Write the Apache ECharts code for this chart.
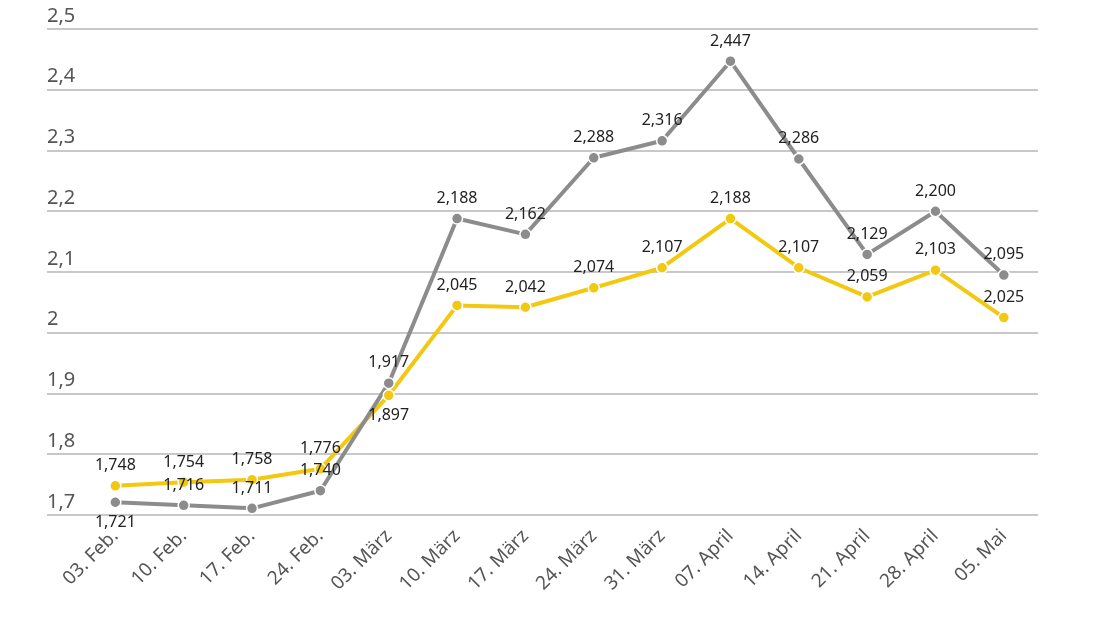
<!DOCTYPE html>
<html>
<head>
<meta charset="utf-8">
<script src="https://cdn.jsdelivr.net/npm/echarts@6/dist/echarts.min.js"></script>
<style>html,body{margin:0;padding:0;background:#fff}#c{width:1100px;height:618px}</style>
</head>
<body>
<div id="c"></div>
<script>
const categories = ['03. Feb.','10. Feb.','17. Feb.','24. Feb.','03. März','10. März','17. März','24. März','31. März','07. April','14. April','21. April','28. April','05. Mai'];
const grayValues = [1.721,1.716,1.711,1.740,1.917,2.188,2.162,2.288,2.316,2.447,2.286,2.129,2.200,2.095];
const yellowValues = [1.748,1.754,1.758,1.776,1.897,2.045,2.042,2.074,2.107,2.188,2.107,2.059,2.103,2.025];
const grayBelow = [0];
const yellowBelow = [4];

const fmt3 = v => v.toFixed(3).replace('.', ',');
function build(values, below) {
  return values.map((v, i) => ({
    value: [i, v],
    label: { position: below.includes(i) ? 'bottom' : 'top' }
  }));
}
const chart = echarts.init(document.getElementById('c'));
const FONT = 'Noto Sans';
chart.setOption({
  animation: false,
  grid: { left: 47, right: 62, top: 29, bottom: 103 },
  xAxis: {
    type: 'value', min: -1, max: 13.5, interval: 1,
    axisLine: { show: false }, axisTick: { show: false }, splitLine: { show: false },
    axisLabel: {
      rotate: 45, margin: 18, fontSize: 19, color: '#555', fontFamily: FONT,
      formatter: v => categories[v] || ''
    }
  },
  yAxis: {
    type: 'value', min: 1.7, max: 2.5, interval: 0.1,
    axisLine: { show: false }, axisTick: { show: false },
    splitLine: { lineStyle: { color: '#c8c8c8', width: 2 } },
    axisLabel: {
      inside: true, margin: 0, verticalAlign: 'bottom', padding: [0, 0, 3, 0],
      fontSize: 20, color: '#555', fontFamily: FONT,
      formatter: v => String(Math.round(v * 10) / 10).replace('.', ',')
    }
  },
  series: [
    {
      type: 'line', data: build(yellowValues, yellowBelow),
      symbol: 'circle', symbolSize: 11,
      lineStyle: { color: '#f2c811', width: 4 },
      itemStyle: { color: '#f2c811', borderColor: '#fff', borderWidth: 1.5 },
      label: { show: true, fontSize: 16, color: '#222', fontFamily: FONT, distance: 6, formatter: p => fmt3(p.value[1]) }
    },
    {
      type: 'line', data: build(grayValues, grayBelow),
      symbol: 'circle', symbolSize: 11,
      lineStyle: { color: '#8c8c8c', width: 4 },
      itemStyle: { color: '#8c8c8c', borderColor: '#fff', borderWidth: 1.5 },
      label: { show: true, fontSize: 16, color: '#222', fontFamily: FONT, distance: 6, formatter: p => fmt3(p.value[1]) }
    }
  ]
});
</script>
</body>
</html>
